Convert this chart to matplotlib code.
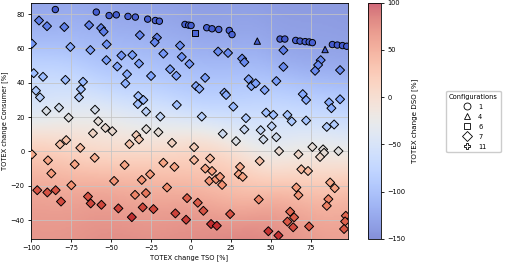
import numpy as np
import matplotlib as mpl
mpl.use('Agg')
import matplotlib.pyplot as plt
from matplotlib.colors import Normalize
from matplotlib.lines import Line2D

plt.rcParams['font.size'] = 4.8
plt.rcParams['axes.linewidth'] = 0.6
plt.rcParams['xtick.major.size'] = 2.5
plt.rcParams['ytick.major.size'] = 2.5
plt.rcParams['xtick.major.width'] = 0.6
plt.rcParams['ytick.major.width'] = 0.6
plt.rcParams['xtick.major.pad'] = 2
plt.rcParams['ytick.major.pad'] = 2

# configuration 1 (circles), 4 (triangles), 6 (square)
circ_tso = [-84.8, -59.2, -51.2, -46.7, -39.4, -34.8, -27.1, -22.3, -19.8, -3.8, -1.5, 0.0,
            9.8, 13.1, 17.3, 23.9, 25.6, 55.6, 58.6, 65.4, 68.1, 71.3, 73.8, 75.8,
            88.3, 91.4, 94.6, 97.3, -101.0]
circ_cons = [82.7, 81.2, 79.2, 79.6, 78.7, 78.3, 77.1, 76.3, 75.9, 74.0, 73.6, 73.4,
             72.1, 71.5, 71.1, 70.5, 68.1, 65.5, 65.5, 64.7, 64.3, 64.0, 63.8, 63.4,
             62.3, 62.0, 61.7, 61.3, 88.5]
circ_dso = [-142, -140, -140, -140, -138, -138, -140, -138, -138, -140, -140, -140,
            -140, -140, -138, -138, -136, -142, -142, -140, -140, -140, -140, -138,
            -142, -142, -142, -140, -145]
tri_tso = [41.4, 83.75]
tri_cons = [64.3, 59.4]
tri_dso = [-140, -140]
sq_tso = [2.7]
sq_cons = [68.8]
sq_dso = [-135]

# configuration 7 (diamonds)
dia_tso = [-95, -90, -79.2, -63.7, -56.2, -54.6, -32, -21.3, -22.7, 57.7,
           -99.4, -75.4, -62.9, -52.7, -52.9, -43.5, -36.7, -46.1, -32.5, -6.9,
           -17.3, -5.8, -1, 16.9, 23.1, 31.9, 33.3, 57.7, 81, 79.4, 77.5, 93.1,
           -40, -41, -98.3, -92.5, -78.5, -67.5, -68.8, -70, -96.9, -94.4, -25,
           -13.1, -9.2, 8.8, 3.1, 5.2, 20.8, 21.9, 36, 37.7, 40.4, 46, 53.3,
           69.8, 71.9, 86.25, 87.7, 93.1,
           -33, -29.8, -33.3, -8.9, 26.4, -28.1, -19.2, 6.7, 34.3, 46.9, 51.4,
           60.2, 62.9, 71.9, 84.8, 89.4, 43.5, 50.4, 45.2, 53.3,
           -90.4, -82.5, -76.5, -60, -58, -53.5, -49.2, -61.3, -28, -20.4, -11.9,
           19.8, 28.1, 33.3,
           -38.5, -34.2, -32.5, -81.9, -78, -69.2, -99.4, -89.4, -60.2, -72.7,
           -87.3, -41.5, 1.9, 1.9, 11.9, 55, 67.1, 75.8, 82.5, 83.1, 80.6, 92.1, 42.9,
           -17.3, -10.4, 8.9, 13.1, 11.4, 15.6, 18.1, 19.4, 30.6, 29.8, 32.3, 68.9,
           73.1, 86.9, 89.8, 65.8, 67.1, -25.6, -30.8, -15, -48.1, -74.8, -35, -28.2,
           -96.1, -89.8, -84.6, -81.25, -64.4, -62.7, -56, -45.4, -37, -30.2, -23.5,
           -9.8, -3.1, -2.5, 4.2, 7.7, 24.4, 12.5, 16.1, 42.3, 85.8, 84.8, 61.9, 64.4,
           60.2, 63.8, 73.75, 96.7, 96.25, 95.6, 48.3, 54.6, 37.5]
dia_cons = [76.3, 73, 72.5, 73.6, 71.9, 69.8, 67.8, 66.3, 63.6, 59,
            62.8, 60.9, 59.1, 62.4, 53.2, 55.9, 56.2, 49.5, 51.2, 61.7,
            57, 55.1, 51, 58.2, 57.4, 54.1, 52, 49.3, 53.2, 50.4, 47, 47.4,
            45, 39.6, 45.6, 43.5, 41.7, 40.6, 36.3, 31.5, 35.4, 31.5, 44,
            47.9, 44.1, 42.9, 38.1, 36.5, 34.2, 32.9, 42.1, 38.1, 39.7, 35.8, 41,
            33.4, 30, 28.6, 25.2, 30.4,
            32.3, 30, 27.6, 27.1, 26.1, 23.2, 20.3, 20.3, 19.4, 22.6, 21.3,
            21.3, 17.5, 18, 14.3, 15.7, 12.4, 14.7, 7, 8.3,
            23.6, 25.5, 19.7, 24.3, 17.6, 13.7, 11.8, 10.6, 13, 11.2, 5,
            10.3, 6, 12.8,
            4.3, 9.5, 7, 4.1, 6.6, 2.1, -1.7, -5.2, -3.7, -7.5,
            -12.8, -7.9, 2.5, -5, -4.1, 0.2, -1.7, 2.6, 1.2, -0.8, -3.2, 0.2, -5.6,
            -6.6, -9, -10, -11.4, -17.2, -16.2, -14.8, -19.5, -9, -13.3, -14.8, -10.4,
            -11.4, -18.1, -21.4, -21, -25.5, -13.3, -16.6, -21, -17.2, -19.7, -25.3, -24.3,
            -22.6, -23.9, -22.6, -29.2, -26.3, -30.3, -31.1, -33.2, -38.3, -32.6, -33.6,
            -36.1, -39.8, -27.2, -29.9, -34.6, -36.5, -42.3, -43.3, -28, -27.8, -31.7, -35.1, -38.4,
            -40.9, -44.2, -43.7, -37.5, -40.8, -45.2, -46.5, -49, -54]
dia_dso = [-120, -120, -118, -120, -118, -120, -115, -118, -115, -120,
           -105, -90, -98, -108, -100, -105, -100, -95, -100, -110,
           -105, -108, -105, -112, -112, -115, -112, -112, -115, -112, -112, -112,
           -90, -85, -75, -75, -75, -78, -72, -62, -65, -60, -95,
           -100, -98, -100, -92, -90, -92, -90, -98, -95, -98, -92, -100,
           -92, -90, -90, -88, -95,
           -75, -78, -72, -72, -78, -55, -50, -58, -65, -72, -72,
           -70, -65, -68, -62, -62, -48, -52, -38, -38,
           -30, -38, -25, -35, -20, -15, -15, -8, -22, -20, -5,
           -40, -28, -45,
           8, 0, 5, 10, 8, 15, 25, 30, 22, 30,
           35, 30, 0, 15, 15, -15, -10, -20, -22, -18, -10, -25, 10,
           30, 30, 30, 32, 40, 38, 35, 42, 25, 30, 30, 15,
           15, 28, 32, 35, 40, 35, 40, 45, 40, 42, 50, 58,
           75, 75, 75, 78, 75, 80, 80, 82, 90, 80, 80,
           82, 85, 70, 70, 75, 75, 90, 90, 50, 50, 52, 65, 70,
           72, 78, 72, 65, 68, 72, 88, 90, 100]

configs = [1, 4, 6, 7, 11]
markers = {1: 'o', 4: '^', 6: 's', 7: 'D', 11: 'P'}
series = {1: (circ_tso, circ_cons, circ_dso),
          4: (tri_tso, tri_cons, tri_dso),
          6: (sq_tso, sq_cons, sq_dso),
          7: (dia_tso, dia_cons, dia_dso)}

xlim = (-100, 98)
ylim = (-51, 86.5)

fig = plt.figure(figsize=(5.05, 2.62), dpi=100)
ax = fig.add_axes([0.0614, 0.088, 0.6275, 0.9005])
cax = fig.add_axes([0.7287, 0.088, 0.0257, 0.902])

cmap = plt.get_cmap('coolwarm')
norm = Normalize(vmin=-150, vmax=100)

# background: kernel-smoothed surface of the DSO values
all_x = np.concatenate([np.asarray(v[0], float) for v in series.values()])
all_y = np.concatenate([np.asarray(v[1], float) for v in series.values()])
all_z = np.concatenate([np.asarray(v[2], float) for v in series.values()])
gx, gy = np.meshgrid(np.linspace(*xlim, 220), np.linspace(*ylim, 160))
d2 = (gx[..., None] - all_x) ** 2 + (gy[..., None] - all_y) ** 2
w = np.exp(-d2 / (2 * 14.0 ** 2))
surf = (w * all_z).sum(-1) / w.sum(-1)
bg = ax.imshow(surf, extent=[xlim[0], xlim[1], ylim[0], ylim[1]], origin='lower',
               aspect='auto', cmap=cmap, norm=norm, alpha=0.62, zorder=0,
               interpolation='bilinear')

for c in configs:
    if c not in series:
        continue
    x, y, z = series[c]
    ax.scatter(x, y, c=z, cmap=cmap, norm=norm, marker=markers[c], s=21,
               edgecolors='black', linewidths=0.7, zorder=3)

ax.set_xlim(*xlim)
ax.set_ylim(*ylim)
ax.set_xticks([-100, -75, -50, -25, 0, 25, 50, 75])
ax.set_yticks([-40, -20, 0, 20, 40, 60, 80])
ax.grid(True, color='#c4c4c4', linewidth=0.7, alpha=0.8)
ax.set_xlabel('TOTEX change TSO [%]', labelpad=2)
ax.set_ylabel('TOTEX change Consumer [%]', labelpad=2)

cb = fig.colorbar(bg, cax=cax)
cb.set_ticks([-150, -100, -50, 0, 50, 100])
cb.set_label('TOTEX change DSO [%]', labelpad=4, fontsize=5.1)
cb.outline.set_linewidth(0.6)

handles = [Line2D([], [], marker=markers[c], linestyle='none', markerfacecolor='white',
                  markeredgecolor='black', markeredgewidth=0.6, markersize=5, label=str(c))
           for c in configs]
fig.legend(handles=handles, title='Configurations', loc='upper right',
           bbox_to_anchor=(0.998, 0.666), fontsize=4.8, title_fontsize=4.8,
           handletextpad=0.6, borderpad=0.4, labelspacing=0.6, framealpha=1,
           edgecolor='#cccccc', fancybox=True)

plt.savefig('out.png', dpi=100)
